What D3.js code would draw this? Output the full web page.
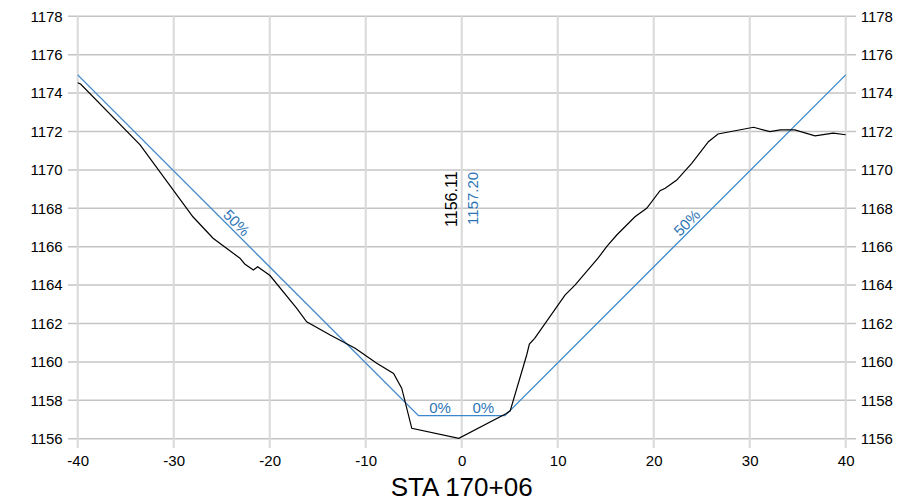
<!DOCTYPE html>
<html>
<head>
<meta charset="utf-8">
<script src="https://cdn.jsdelivr.net/npm/d3@7"></script>
<style>
  body { margin: 0; background: #fff; }
  text { font-family: "Liberation Sans", Arial, sans-serif; }
</style>
</head>
<body>
<svg width="922" height="504"></svg>
<script>
// ground profile (offset, elevation)
const groundX = [-40, -39.7, -33.5, -28.0, -25.9, -24.5, -23.1, -22.6, -21.7, -21.25, -19.97, -17.2, -16.15,
  -13.7, -11.1, -8.85, -7.1, -6.25, -5.2, -0.3, 4.6, 5.05, 6.77, 7.05, 7.6, 10.76, 11.8, 14.2, 15.1,
  16.15, 18.05, 19.27, 20.66, 21.2, 22.4, 23.96, 25.7, 26.7, 30.4, 32.1, 33.2, 34.7, 36.8, 38.7, 40];
const groundY = [1174.54, 1174.47, 1171.3, 1167.56, 1166.44, 1165.92, 1165.4, 1165.1, 1164.79, 1164.96, 1164.5, 1162.8, 1162.09,
  1161.4, 1160.71, 1159.93, 1159.4, 1158.63, 1156.54, 1156.02, 1157.3, 1157.45, 1160.36, 1160.93, 1161.23, 1163.48, 1164.0, 1165.4, 1166.0,
  1166.61, 1167.56, 1168.0, 1168.92, 1169.04, 1169.47, 1170.34, 1171.47, 1171.87, 1172.22, 1171.99, 1172.08, 1172.08, 1171.77, 1171.91, 1171.83];

// design section
const designX = [-40, -4.5, 4.5, 40];
const designY = [1174.95, 1157.2, 1157.2, 1174.95];
const slopeLabels = ["50%", "0%", "0%", "50%"];

const xTicks = [-40, -30, -20, -10, 0, 10, 20, 30, 40];
const yTicks = [1156, 1158, 1160, 1162, 1164, 1166, 1168, 1170, 1172, 1174, 1176, 1178];
const groundCL = "1156.11";
const designCL = "1157.20";
const title = "STA 170+06";

const svg = d3.select('svg');
const blue = '#3a87cc';
const blueText = '#2e75b6';

const x = d3.scaleLinear().domain([-40, 40]).range([77.7, 845.7]);
const y = d3.scaleLinear().domain([1156, 1178]).range([438.7, 16.3]);

// grid
svg.append("g").selectAll("line.h")
    .data(yTicks).enter().append("line")
    .attr("x1", 68).attr("x2", 856)
    .attr("y1", d => y(d)).attr("y2", d => y(d))
    .attr("stroke", "#c4c4c4").attr("stroke-width", 1.5);
svg.append("g").selectAll("line.v")
    .data(xTicks).enter().append("line")
    .attr("x1", d => x(d)).attr("x2", d => x(d))
    .attr("y1", y(1178)).attr("y2", 448)
    .attr("stroke", "#d9d9d9").attr("stroke-width", 2);

// axes labels
const yl = d3.axisLeft(y).tickValues(yTicks).tickSize(0).tickPadding(15).tickFormat(d3.format("d"));
const yr = d3.axisRight(y).tickValues(yTicks).tickSize(0).tickPadding(15).tickFormat(d3.format("d"));
const xa = d3.axisBottom(x).tickValues(xTicks).tickSize(0).tickPadding(17).tickFormat(d => d < 0 ? "-" + Math.abs(d) : d);

function clean(g) {
    g.select(".domain").remove();
    g.selectAll(".tick text").attr("fill", "#000").style("font-size", "15px")
        .style("font-family", '"Liberation Sans", Arial, sans-serif');
}
svg.append("g").attr("transform", `translate(${x(-40)},0)`).call(yl).call(clean);
svg.append("g").attr("transform", `translate(${x(40)},0)`).call(yr).call(clean);
svg.append("g").attr("transform", `translate(0,${y(1156)})`).call(xa).call(clean);

svg.append("text")
    .attr("x", x(0)).attr("y", 496)
    .attr("text-anchor", "middle")
    .style("font-size", "26px")
    .text(title);

// lines
const ground = groundX.map((d, i) => [d, groundY[i]]);
const design = designX.map((d, i) => [d, designY[i]]);
const line = d3.line().x(d => x(d[0])).y(d => y(d[1]));

svg.append("path").attr("d", line(design))
    .attr("fill", "none").attr("stroke", blue).attr("stroke-width", 1.3);
svg.append("path").attr("d", line(ground))
    .attr("fill", "none").attr("stroke", "#000").attr("stroke-width", 1.2);

// slope labels along each segment
const labelPos = [[0, 0.45, slopeLabels[0]], [1, 0.25, slopeLabels[1]], [1, 0.75, slopeLabels[2]], [2, 0.55, slopeLabels[3]]];
labelPos.forEach(([i, t, s]) => {
    const x0 = x(design[i][0]), y0 = y(design[i][1]);
    const x1 = x(design[i + 1][0]), y1 = y(design[i + 1][1]);
    const ang = Math.atan2(y1 - y0, x1 - x0) * 180 / Math.PI;
    const mx = x0 + (x1 - x0) * t, my = y0 + (y1 - y0) * t;
    svg.append("text")
        .attr("transform", `translate(${mx},${my}) rotate(${ang})`)
        .attr("text-anchor", "middle")
        .attr("dy", i === 1 ? "-3" : "-2.5")
        .attr("fill", blueText)
        .style("font-size", "15px")
        .text(s);
});

// centerline elevations
svg.append("text")
    .attr("transform", `translate(${x(0) - 4.5},${y(1169.92)}) rotate(-90)`)
    .attr("text-anchor", "end")
    .style("font-size", "16px")
    .text(groundCL);
svg.append("text")
    .attr("transform", `translate(${x(0) + 16.5},${y(1169.9)}) rotate(-90)`)
    .attr("text-anchor", "end")
    .attr("fill", blueText)
    .style("font-size", "15px")
    .text(designCL);
</script>
</body>
</html>
